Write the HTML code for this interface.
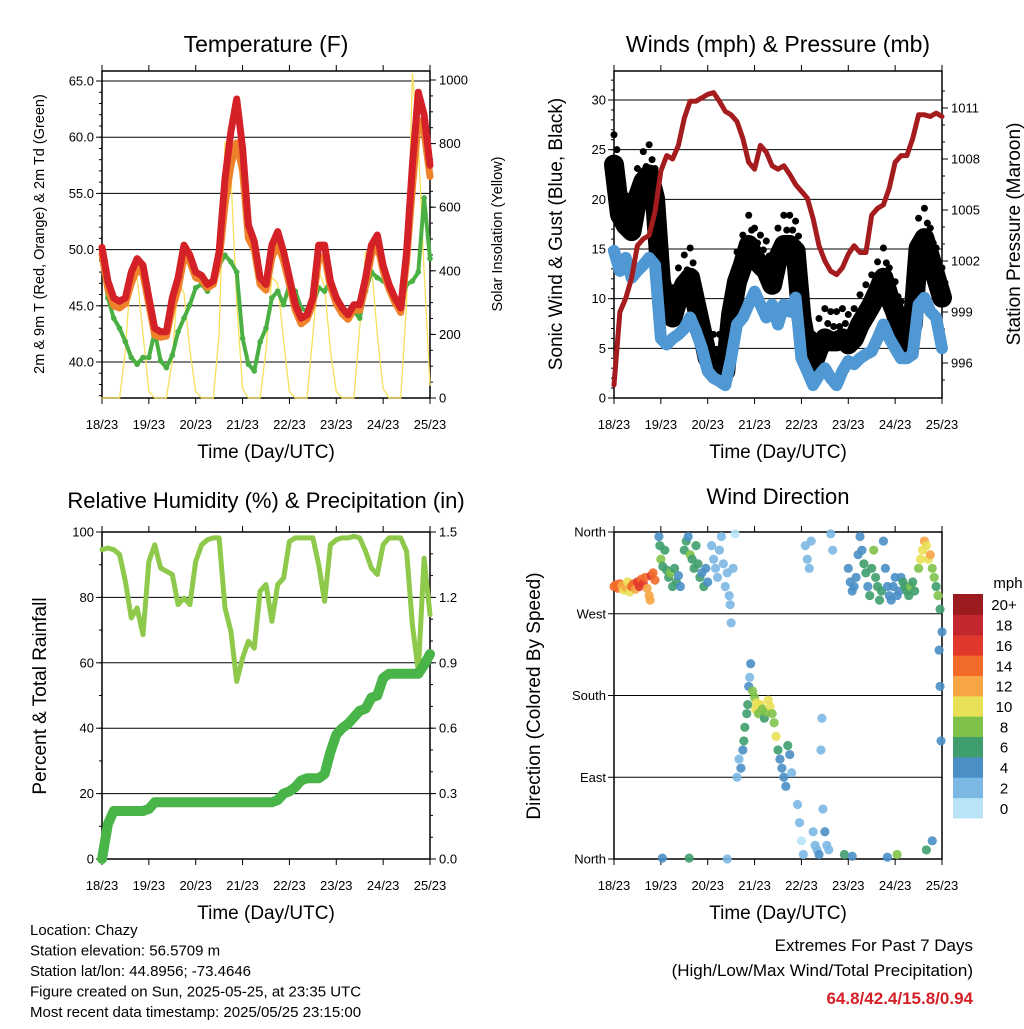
<!DOCTYPE html>
<html><head><meta charset="utf-8"><style>
html,body{margin:0;padding:0;background:#fff;}
body{width:1024px;height:1024px;overflow:hidden;font-family:"Liberation Sans",sans-serif;}
</style></head><body>
<svg id="c" width="1024" height="1024" xmlns="http://www.w3.org/2000/svg" font-family="Liberation Sans, sans-serif"></svg>
<script>
// ---------- DATA (3-hourly from 18/23 UTC) ----------
const dayLabels=["18/23","19/23","20/23","21/23","22/23","23/23","24/23","25/23"];
const tempTicks=[40,45,50,55,60,65];
const solarTicks=[0,200,400,600,800,1000];
const windTicks=[0,5,10,15,20,25,30];
const presTicks=[996,999,1002,1005,1008,1011];
const rhTicks=[0,20,40,60,80,100];
const rainTicks=[0.0,0.3,0.6,0.9,1.2,1.5];
const dirTicks=[0,90,180,270,360];
const dirNames=["North","East","South","West","North"];
const tempRed=[50.2,47.2,45.7,45.4,45.7,48.0,49.2,48.6,45.7,43.0,42.7,42.7,45.7,47.5,50.4,49.5,48.0,47.7,46.9,47.2,49.8,56.3,60.5,63.4,59.0,52.2,50.7,47.5,46.9,50.4,51.6,49.8,47.5,45.1,43.9,44.2,45.7,50.4,50.4,47.2,45.7,44.8,44.2,45.1,45.1,47.5,50.4,51.3,48.6,46.9,45.7,44.8,49.8,57.5,64.0,62.0,57.5];
const tempOrange=[49.6,46.5,45.0,44.8,45.2,47.0,48.3,47.8,45.1,42.4,42.2,42.3,44.8,46.5,49.3,48.9,47.5,47.3,46.6,46.9,49.0,54.0,57.5,59.5,57.0,51.0,50.0,46.9,46.4,49.3,50.5,49.0,46.9,44.6,43.4,43.8,45.2,49.2,49.4,46.7,45.2,44.3,43.8,44.7,44.6,46.8,49.5,50.5,48.1,46.5,45.3,44.4,49.0,55.5,61.5,60.5,56.5];
const tempDew=[49.2,45.7,43.9,43.0,41.8,40.4,39.8,40.4,40.4,42.7,40.1,39.5,40.6,42.7,43.9,45.1,46.6,46.9,46.3,47.2,48.6,49.5,48.9,48.0,42.1,39.8,39.2,41.8,43.0,45.7,46.3,45.1,46.9,46.3,44.8,44.5,45.1,46.6,46.3,47.2,45.1,44.2,43.9,44.5,43.9,46.3,48.0,47.5,47.2,46.9,45.7,44.8,46.9,47.2,48.0,54.6,49.2];
const solar=[0,0,0,0,150,420,380,200,20, 0,0,0,120,370,330,150,20, 0,0,0,200,805,700,300,30, 0,0,0,150,380,360,180,20, 0,0,0,200,400,350,150,20, 0,0,0,220,460,420,200,30, 0,0,0,300,1020,800,400,40];
const windSonic=[14.8,12.8,14.1,12.1,12.8,13.4,14.1,13.4,6.0,5.4,6.0,6.4,7.0,8.1,6.7,5.0,2.7,2.0,1.7,1.3,4.0,7.4,8.1,9.4,10.7,9.4,8.1,9.4,7.4,9.4,8.7,10.1,4.0,2.7,1.3,2.3,3.0,2.0,1.3,2.7,3.7,3.4,4.0,4.4,4.7,6.0,7.4,6.0,5.0,4.0,4.0,4.4,9.4,10.1,8.7,8.1,5.0];
const windGust=[23.5,18.5,17.4,16.8,20.1,21.8,22.5,20.1,11.7,9.4,8.1,10.1,11.4,12.1,9.4,6.7,4.0,3.4,3.4,2.7,8.4,11.7,13.4,15.4,14.1,13.4,12.8,11.4,14.1,15.4,15.4,14.8,8.1,4.7,3.4,5.0,6.0,5.7,5.7,6.0,5.4,6.0,7.4,8.4,9.4,10.7,12.1,10.1,8.7,6.7,5.4,7.4,15.1,16.1,14.1,12.1,10.1];
const pressure=[994.7,999.0,999.8,1001.0,1002.9,1003.3,1003.5,1004.9,1007.3,1008.2,1008.0,1008.8,1010.4,1011.4,1011.4,1011.6,1011.8,1011.9,1011.4,1010.8,1010.6,1010.2,1009.2,1007.8,1007.4,1008.8,1008.4,1007.6,1007.4,1007.6,1007.1,1006.5,1006.1,1005.7,1004.5,1002.9,1002.0,1001.4,1001.2,1001.6,1002.4,1002.9,1002.5,1002.5,1004.7,1005.1,1005.3,1006.3,1007.8,1008.2,1008.2,1009.2,1010.6,1010.6,1010.5,1010.7,1010.5];
const rh=[94.6,95.1,94.6,93.1,84.9,73.7,76.8,68.6,91.0,96.1,89.0,88.0,87.0,77.8,79.8,77.8,91.0,96.1,97.6,98.2,98.2,76.8,69.6,54.3,61.5,66.6,64.5,81.9,83.9,72.7,83.9,85.9,97.1,98.2,98.2,98.2,98.2,90.0,78.8,96.1,97.6,98.2,98.2,98.7,98.2,94.1,89.0,87.0,96.1,98.2,98.2,98.2,94.1,71.6,57.3,92.0,74.7];
const rain=[0.0,0.16,0.22,0.22,0.22,0.22,0.22,0.22,0.23,0.26,0.26,0.26,0.26,0.26,0.26,0.26,0.26,0.26,0.26,0.26,0.26,0.26,0.26,0.26,0.26,0.26,0.26,0.26,0.26,0.26,0.27,0.30,0.31,0.33,0.36,0.37,0.37,0.37,0.39,0.49,0.57,0.60,0.62,0.65,0.68,0.69,0.74,0.75,0.83,0.85,0.85,0.85,0.85,0.85,0.85,0.89,0.94];
const dirHour=[0,1,2,3,4,5,6,7,8,9,10,11,12,13,14,15,16,17,18,18.5,19,20,21, 23,23.5,24,25,26,27,28,29,30,31,32,33,34, 36,37,38,39,40,41,42,43,44,45,46,47,48, 50,51,52,53,54,55,56,57,58,59,59.5,60,61,62, 63,64,65,66,66.5,67,68,68.5,69,69.5,70,71,72,72.5,73,74,75,76,77,78,79,80,81,82,83,84,85,86,87,88,89,90,91, 94,95,96,97,98,99,100,101,102,103,104,105,106,106.5,107,108,109,110,111,112, 120,121,122,123,124,125,126,127,128,129,130,131,132,133,134,135,136,137,138,139,140,141,142,143,144,145,146,147,148,149,150,151,152,153,154, 156,157,158,159,160,161,162,163,164,165,166,167,168,166.5,167,167.5, 24.8,38.5,58,118,122,140,145,160,163];
const dirDeg=[300,302,298,303,301,296,299,305,294,300,303,297,305,300,308,303,310,298,290,285,312,315,307, 355,345,330,322,340,318,310,315,300,320,305,312,300, 340,350,355,335,330,320,345,325,310,315,300,320,305, 345,330,320,310,340,355,325,300,315,290,280,260,320,358, 90,110,100,120,130,145,160,170,190,200,215,185,178,165,172,160,170,165,155,162,175,168,160,150,135,120,110,100,90,80,125,115,95, 60,40,20,5,345,330,320,350,30,15,10,5,120,155,55,30,15,10,358,340, 320,305,295,300,310,335,355,340,325,315,300,290,320,340,310,300,285,295,350,320,300,290,285,300,310,290,295,310,305,300,295,290,300,305,295, 320,330,340,350,345,330,335,320,310,300,290,275,250,230,190,130, 1,1,0,5,3,2,5,10,20];
const dirSpeed=[13,14,13,14,11,10,12,9,10,13,14,12,15,16,14,16,13,12,11,12,15,13,14, 4,5,8,6,6,5,6,7,5,6,6,4,4, 6,5,4,8,6,6,5,6,6,4,5,4,3, 2,2,2,1,2,1,2,2,1,1,1,2,1,0, 1,2,3,4,5,6,6,5,4,2,3,7,8,9,10,8,9,8,6,7,9,10,8,7,10,6,4,3,4,3,6,3,2, 1,1,0,1,1,1,2,1,2,2,2,3,2,1,2,3,2,2,1,2, 4,3,4,4,3,4,3,4,5,6,4,5,6,7,6,6,6,6,4,4,4,3,4,4,4,4,4,4,5,5,6,6,7,6,5, 8,9,10,11,10,9,12,8,7,6,7,6,4,4,3,4, 4,6,1,6,4,3,7,6,4];
const binLabels=["0","2","4","6","8","10","12","14","16","18","20+"];
const binColors=["#b9e4f8","#7cb8e4","#4a8fc6","#3f9e6d","#7fc24a","#e8e055","#f7a545","#f26a2a","#e0392c","#c1272d","#9b1b1f"];

// ---------- helpers ----------
const svg=document.getElementById('c');
const NS="http://www.w3.org/2000/svg";
function mk(tag,attrs,parent){const e=document.createElementNS(NS,tag);for(const k in attrs)e.setAttribute(k,attrs[k]);(parent||svg).appendChild(e);return e;}
function txt(s,x,y,size,anchor,extra){const t=mk('text',Object.assign({x:x,y:y,'font-size':size,'text-anchor':anchor||'middle',fill:'#000'},extra||{}));t.textContent=s;return t;}
function lin(d0,d1,p0,p1){return v=>p0+(v-d0)/(d1-d0)*(p1-p0);}
function pts(xs,ys,fx,fy){return ys.map((v,i)=>fx(xs(i)).toFixed(1)+','+fy(v).toFixed(1)).join(' ');}
const hourOf=i=>i*3;

function frame(name,L,T,R,B,fy,ticks,fmt,fyR,ticksR,fmtR,minorL,minorR){
  const g=mk('g',{});
  
  
  const fx=lin(0,168,L,R);
  ticks.forEach(v=>{const y=fy(v);mk('line',{x1:L,x2:R,y1:y,y2:y,stroke:'#000','stroke-width':1},g);});
  mk('rect',{x:L,y:T,width:R-L,height:B-T,fill:'none',stroke:'#000','stroke-width':1.5},g);
  dayLabels.forEach((s,i)=>{const x=fx(i*24);
    mk('line',{x1:x,x2:x,y1:B,y2:B+6,stroke:'#000'},g);mk('line',{x1:x,x2:x,y1:T,y2:T-6,stroke:'#000'},g);
    const t=txt(s,x,B+31,13);});
  ticks.forEach(v=>{const y=fy(v);mk('line',{x1:L-6,x2:L,y1:y,y2:y,stroke:'#000'},g);
    const t=txt(fmt(v),L-8,y+4.5,13,'end');});
  if(minorL)minorL.forEach(v=>{const y=fy(v);mk('line',{x1:L-3,x2:L,y1:y,y2:y,stroke:'#000'},g);});
  if(fyR){ticksR.forEach(v=>{const y=fyR(v);mk('line',{x1:R,x2:R+6,y1:y,y2:y,stroke:'#000'},g);
    const t=txt(fmtR(v),R+9,y+4.5,13,'start');});
    if(minorR)minorR.forEach(v=>{const y=fyR(v);mk('line',{x1:R,x2:R+3,y1:y,y2:y,stroke:'#000'},g);});}
  return fx;
}
function poly(pointsStr,color,w,name,op){const p=mk('polyline',{points:pointsStr,fill:'none',stroke:color,'stroke-width':w,'stroke-linejoin':'round','stroke-linecap':'round',opacity:op||1});
  
  return p;}
function label(s,x,y,size,name,rot){const t=txt(s,x,y,size,'middle',rot?{transform:'rotate(-90 '+x+' '+y+')'}:{});
  
  return t;}

// ---------- Panel 1: Temperature ----------
(function(){
  const L=102,T=71,R=430,B=398;
  const fy=lin(40,65,362,81), fyR=lin(0,1000,398,80);
  const minor=[];for(let v=37;v<=65;v++)minor.push(v);
  const minorR=[];for(let v=0;v<=1000;v+=50)minorR.push(v);
  const fx=frame('temperature',L,T,R,B,fy,tempTicks,v=>v.toFixed(1),fyR,solarTicks,v=>String(v),minor,minorR);
  poly(pts(hourOf,solar,fx,fyR),'#f7e05a',1.3,'solar-insolation-line');
  poly(pts(hourOf,tempDew,fx,fy),'#4bb043',4,'dewpoint-2m-line');
  tempDew.forEach((v,i)=>{const c=mk('circle',{cx:fx(hourOf(i)),cy:fy(v),r:2.8,fill:'#4bb043'});
    
    });
  poly(pts(hourOf,tempOrange,fx,fy),'#f0812b',7,'temp-9m-line');
  poly(pts(hourOf,tempRed,fx,fy),'#d42027',7,'temp-2m-line');
  label('Temperature (F)',266,52,23,'temperature-title');
  label('Time (Day/UTC)',266,458,19,'temperature-x-title');
  label('2m & 9m T (Red, Orange) & 2m Td (Green)',44,234,14.5,'temperature-y-title',true);
  label('Solar Insolation (Yellow)',502,234,14.5,'solar-y-title',true);
})();

// ---------- Panel 2: Winds & Pressure ----------
(function(){
  const L=614,T=71,R=942,B=398;
  const fy=lin(0,30,398,100), fyR=lin(996,1011,363,108);
  const minor=[];for(let v=0;v<=32;v++)minor.push(v);
  const minorR=[];for(let v=995;v<=1012;v++)minorR.push(v);
  const fx=frame('winds',L,T,R,B,fy,windTicks,v=>String(v),fyR,presTicks,v=>String(v),minor,minorR);
  poly(pts(hourOf,windGust,fx,fy),'#000',20,'gust-band');
  windGust.forEach((v,i)=>{const c=mk('circle',{cx:fx(hourOf(i)),cy:fy(v+3),r:3.5,fill:'#000'});
    
    
    const c2=mk('circle',{cx:fx(hourOf(i)+1.5),cy:fy(v+1.5),r:3.5,fill:'#000'});
    
    });
  poly(pts(hourOf,windSonic,fx,fy),'#4f98d3',12,'sonic-wind-band');
  poly(pts(hourOf,pressure,fx,fyR),'#a51c1f',5,'pressure-line');
  label('Winds (mph) & Pressure (mb)',778,52,23,'winds-title');
  label('Time (Day/UTC)',778,458,19,'winds-x-title');
  label('Sonic Wind & Gust (Blue, Black)',562,234,19,'wind-y-title',true);
  label('Station Pressure (Maroon)',1020,234,19,'pressure-y-title',true);
})();

// ---------- Panel 3: RH & Precip ----------
(function(){
  const L=102,T=532,R=430,B=859;
  const fy=lin(0,100,859,532), fyR=lin(0,1.5,859,532);
  const minor=[];for(let v=0;v<=100;v+=10)minor.push(v);
  const minorR=[];for(let v=0;v<=15;v++)minorR.push(v/10);
  const fx=frame('humidity',L,T,R,B,fy,rhTicks,v=>String(v),fyR,rainTicks,v=>v.toFixed(1),minor,minorR);
  poly(pts(hourOf,rh,fx,fy),'#8ec94b',5,'relative-humidity-line');
  poly(pts(hourOf,rain,fx,fyR),'#49b448',10,'total-rainfall-line');
  label('Relative Humidity (%) & Precipitation (in)',266,508,22,'humidity-title');
  label('Time (Day/UTC)',266,919,19,'humidity-x-title');
  label('Percent & Total Rainfall',46,696,19,'humidity-y-title',true);
})();

// ---------- Panel 4: Wind direction ----------
(function(){
  const L=614,T=532,R=942,B=859;
  const fy=lin(0,360,859,532);
  const fx=frame('wind-direction',L,T,R,B,fy,dirTicks,v=>dirNames[dirTicks.indexOf(v)],null);
  dirHour.forEach((h,i)=>{const b=Math.min(10,Math.max(0,Math.round(dirSpeed[i]/2)));
    const c=mk('circle',{cx:fx(h),cy:fy(dirDeg[i]),r:4.6,fill:binColors[b],opacity:0.9});
    
    });
  label('Wind Direction',778,504,22,'direction-title');
  label('Time (Day/UTC)',778,919,19,'direction-x-title');
  label('Direction (Colored By Speed)',540,696,19,'direction-y-title',true);
  const cb=mk('g',{});
  
  
  const h=224/11;
  binColors.forEach((col,i)=>{const y=818-(i+1)*h;mk('rect',{x:953,y:y,width:30,height:h+0.5,fill:col},cb);
    const t=txt(binLabels[i],1004,y+h/2+6,15,'middle');});
  const m=txt('mph',1008,588,15,'middle');
})();

// ---------- footer ----------
const info=["Location: Chazy","Station elevation: 56.5709 m","Station lat/lon: 44.8956; -73.4646","Figure created on Sun, 2025-05-25, at 23:35 UTC","Most recent data timestamp: 2025/05/25 23:15:00"];
info.forEach((s,i)=>{const t=txt(s,30,935+i*20.5,15,'start');});
let t1=txt('Extremes For Past 7 Days',973,951,17,'end');
let t2=txt('(High/Low/Max Wind/Total Precipitation)',973,976,17,'end');
let t3=txt('64.8/42.4/15.8/0.94',973,1004,17,'end',{fill:'#d42027','font-weight':'bold'});
</script>
</body></html>
